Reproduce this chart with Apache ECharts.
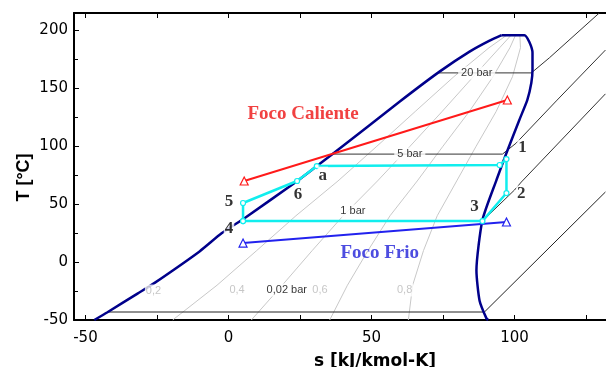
<!DOCTYPE html>
<html><head><meta charset="utf-8">
<script src="https://cdn.jsdelivr.net/npm/echarts@6/dist/echarts.min.js"></script>
<style>html,body{margin:0;padding:0;background:#fff}#c{width:606px;height:367px}</style>
</head><body><div id="c"></div>
<script>
// ---- ticks ----
const xTickLabels = [-50, 0, 50, 100];
const xTickMarks = [-50, -25, 0, 25, 50, 75, 100, 125];
const yTickLabels = [-50, 0, 50, 100, 150, 200];

// ---- saturation dome (s [kJ/kmol-K], T [°C]) ----
const domeLiquid = [[-46.9,-50],[-42.3,-43.3],[-31.8,-27.2],[-26.2,-18.6],[-10.1,9.2],[-2.4,24.8],[5.6,37.9],[23.1,68.3],[30.9,82.9],[36.4,93.2],[59.8,138.4],[73.8,164.4],[84.3,181.7],[91.3,191.2],[95.5,195.9]];
const domeVapor = [[95.5,195.9],[103.5,195.9],[105.2,190],[106.3,180.7],[106.3,166],[105.9,154.8],[104.5,140],[101.7,122.7],[97.2,94.1],[93.7,70.8],[88.8,36.3],[86.7,-7.3],[87.8,-33.3],[90.2,-48.6],[90.8,-50]];

// ---- quality lines ----
const q02 = [[-19.5,-50],[-4.0,-20],[9.9,10],[23.6,40],[38.3,70],[51.9,100],[65.3,130],[78.8,160],[91.1,185],[97.1,195.5]];
const q04 = [[8.0,-50],[18.8,-20],[29.3,10],[40.1,40],[52.1,70],[63.5,100],[74.7,130],[85.6,160],[94.8,185],[98.7,195.5]];
const q06 = [[35.4,-50],[41.6,-20],[48.8,10],[56.5,40],[66.0,70],[75.0,100],[84.2,130],[92.5,160],[98.4,185],[100.3,195.5]];
const q08 = [[62.9,-50],[64.4,-20],[68.2,10],[73.0,40],[79.8,70],[86.6,100],[93.6,130],[99.3,160],[102.1,185],[101.9,195.5]];

// ---- isobars ----
const p20 = [[73.3,163.3],[105.9,163.3],[112.2,176.3],[129.6,214.9]];
const p5 = [[36.4,93.2],[95.8,93.2],[100.6,102.7],[114.9,139.8],[131.8,183]];
const p1 = [[4.5,35.4],[88.8,35.4],[100,62.2],[102.4,69.1],[131.8,145.2]];
const p002 = [[-42.3,-43.1],[89.5,-43.1],[131.8,60.5]];

// ---- cycle and sources ----
const cycle = [[5.1,35.4],[5.1,51.0],[24.0,70.0],[30.9,82.9],[94.8,83.8],[97.2,88.9],[97.2,59.6],[88.8,35.4],[5.1,35.4]];
const hotSource = [[5.5,70.0],[97.5,139.9]];
const coldSource = [[5.1,16.4],[97.2,34.6]];

// ---- annotations [s, T, text] ----
const stateLabels = [[102.8,98.4,'1'],[102.4,58.7,'2'],[86.0,47.5,'3'],[0.2,28.5,'4'],[0.2,51.8,'5'],[24.3,57.9,'6'],[33.0,75.0,'a']];
const hotLabel = [[26.1,127.8,'Foco Caliente']];
const coldLabel = [[52.9,7.8,'Foco Frio']];
const pressureLabels = [[86.8,163.3,'20 bar'],[63.4,93.2,'5 bar'],[43.5,44.1,'1 bar'],[20.4,-24.1,'0,02 bar']];
const qualityLabels = [[-26.2,-25.0,'0,2'],[3.0,-24.1,'0,4'],[32.0,-24.1,'0,6'],[61.6,-24.1,'0,8']];

function lineSeries(data, color, width, z, extra) {
  return Object.assign({
    type: 'line', data: data, showSymbol: false, symbol: 'none', silent: true, z: z,
    lineStyle: { color: color, width: width }, animation: false
  }, extra || {});
}
function labelSeries(items, style, z) {
  return {
    type: 'scatter', symbolSize: 1, silent: true, z: z || 30, animation: false,
    itemStyle: { color: 'rgba(0,0,0,0)' },
    data: items.map(d => ({ value: [d[0], d[1]], label: { formatter: d[2] } })),
    label: Object.assign({ show: true, position: 'inside', align: 'center', verticalAlign: 'middle' }, style)
  };
}

const chart = echarts.init(document.getElementById('c'), null, { renderer: 'canvas' });
const lineBlack = { color: '#000', width: 1 };
const option = {
  animation: false,
  backgroundColor: '#fff',
  grid: { left: 74, right: 0, top: 13, bottom: 47, containLabel: false, outerBoundsMode: 'none' },
  xAxis: [
    {
      type: 'value', min: -54, max: 132, position: 'bottom',
      axisLine: { onZero: false, lineStyle: { color: '#000', width: 2 } },
      axisTick: { inside: true, length: 5, lineStyle: lineBlack, customValues: xTickMarks },
      splitLine: { show: false },
      name: 's [kJ/kmol-K]', nameLocation: 'middle', nameGap: 33,
      nameTextStyle: { fontFamily: 'DejaVu Sans', fontWeight: 'bold', fontSize: 17, color: '#000', padding: [0, 0, 0, 70] },
      axisLabel: { fontFamily: 'DejaVu Sans', fontSize: 15, color: '#000', margin: 11, customValues: xTickLabels }
    },
    {
      type: 'value', min: -54, max: 132, position: 'top',
      axisLine: { onZero: false, lineStyle: { color: '#000', width: 2 } },
      axisTick: { inside: true, length: 5, lineStyle: lineBlack, customValues: xTickMarks },
      splitLine: { show: false },
      axisLabel: { show: false }
    }
  ],
  yAxis: [
    {
      type: 'value', min: -50, max: 215, interval: 50, position: 'left',
      axisLine: { onZero: false, lineStyle: { color: '#000', width: 2 } },
      axisTick: { inside: true, length: 5, lineStyle: lineBlack },
      minorTick: { show: true, splitNumber: 2, length: 4, lineStyle: lineBlack },
      splitLine: { show: false },
      name: 'T [°C]', nameLocation: 'middle', nameGap: 41, nameMoveOverlap: false,
      nameTextStyle: { fontFamily: 'Liberation Sans', fontWeight: 'bold', fontSize: 18, color: '#000', padding: [0, 22, 0, 0] },
      axisLabel: { fontFamily: 'DejaVu Sans', fontSize: 15, color: '#000', margin: 6, showMaxLabel: false,
        formatter: v => (yTickLabels.indexOf(v) >= 0 ? String(v) : '') }
    }
  ],
  series: [
    lineSeries(q02, '#c8c8c8', 1, 2),
    lineSeries(q04, '#c8c8c8', 1, 2),
    lineSeries(q06, '#c8c8c8', 1, 2),
    lineSeries(q08, '#c8c8c8', 1, 2),
    lineSeries(p20, '#333', 1, 3),
    lineSeries(p5, '#333', 1, 3),
    lineSeries(p1, '#333', 1, 3),
    lineSeries(p002, '#222', 1, 3),
    lineSeries(domeLiquid, '#00008b', 2.5, 5, { smooth: 0.2 }),
    lineSeries(domeVapor, '#00008b', 2.5, 5, { smooth: 0.2 }),
    lineSeries(hotSource, '#ff1a1a', 2, 6, { showSymbol: true, symbol: 'triangle', symbolSize: 8, itemStyle: { color: '#fff', borderColor: '#ff1a1a', borderWidth: 1.2 } }),
    lineSeries(coldSource, '#2222ee', 2, 6, { showSymbol: true, symbol: 'triangle', symbolSize: 8, itemStyle: { color: '#fff', borderColor: '#2222ee', borderWidth: 1.2 } }),
    lineSeries(cycle, '#11eeee', 2.5, 7, { showSymbol: true, symbol: 'circle', symbolSize: 5, itemStyle: { color: '#fff', borderColor: '#11eeee', borderWidth: 1.2 } }),
    labelSeries(qualityLabels, { fontFamily: 'Liberation Sans', fontSize: 11, color: '#b8b8b8', backgroundColor: '#fff', padding: [1, 1] }, 20),
    labelSeries(pressureLabels, { fontFamily: 'Liberation Sans', fontSize: 11, color: '#000', backgroundColor: '#fff', padding: [1, 3] }, 20),
    labelSeries(stateLabels, { fontFamily: 'Liberation Serif', fontWeight: 'bold', fontSize: 17, color: '#000', backgroundColor: '#fff', padding: [0, 1] }, 30),
    labelSeries(hotLabel, { fontFamily: 'Liberation Serif', fontWeight: 'bold', fontSize: 19, color: '#ee1111' }, 30),
    labelSeries(coldLabel, { fontFamily: 'Liberation Serif', fontWeight: 'bold', fontSize: 19, color: '#2020d8' }, 30)
  ]
};
chart.setOption(option);
</script>
</body></html>
